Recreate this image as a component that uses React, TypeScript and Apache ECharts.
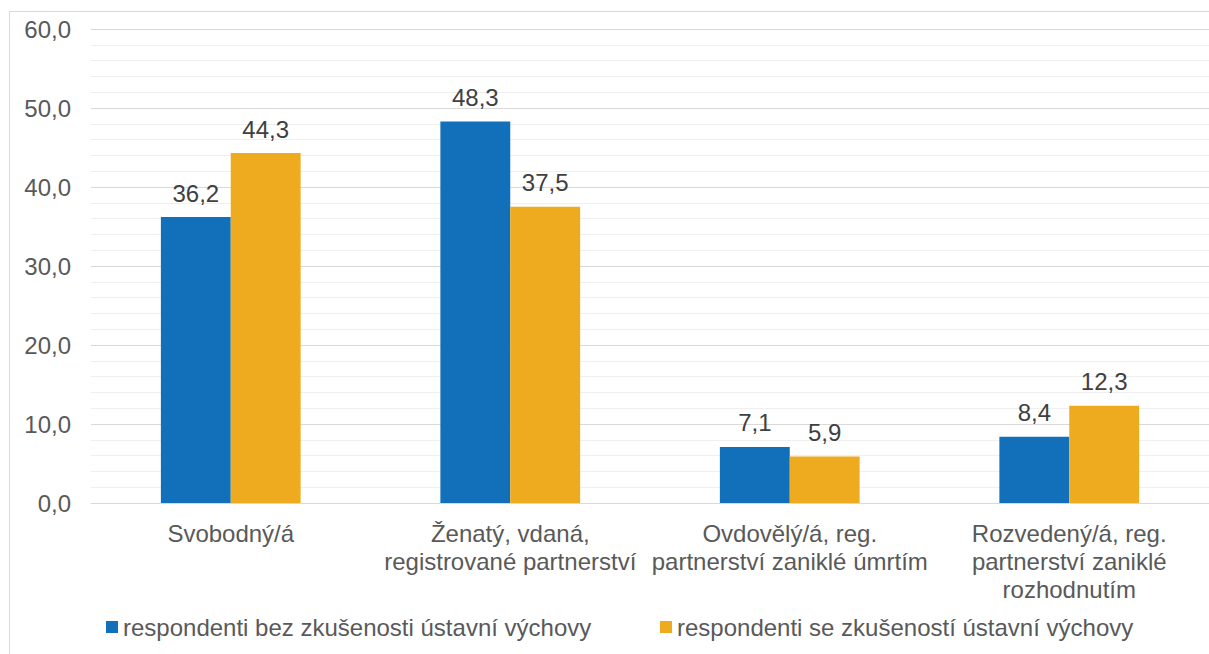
import React, { useEffect, useRef } from "react";
import * as echarts from "echarts";

const categories = [
  "Svobodný/á",
  "Ženatý, vdaná,\nregistrované partnerství",
  "Ovdovělý/á, reg.\npartnerství zaniklé úmrtím",
  "Rozvedený/á, reg.\npartnerství zaniklé\nrozhodnutím",
];
const seriesNames = [
  "respondenti bez zkušenosti ústavní výchovy",
  "respondenti se zkušeností ústavní výchovy",
];
const withoutExperience = [36.2, 48.3, 7.1, 8.4];
const withExperience = [44.3, 37.5, 5.9, 12.3];
const yTicks = { min: 0, max: 60, interval: 10 };

const FONT = "'Liberation Sans', Arial, sans-serif";
const FS = 24;
const fmt = (v: number) => v.toFixed(1).replace(".", ",");

export default function App() {
  const ref = useRef<HTMLDivElement>(null);
  useEffect(() => {
    if (!ref.current) return;
    const chart = echarts.init(ref.current, undefined, { renderer: "svg" });
    const labelCfg = {
      show: true,
      position: "top" as const,
      distance: 12,
      color: "#404040",
      fontSize: FS,
      fontFamily: FONT,
      formatter: (p: any) => fmt(p.value),
    };
    chart.setOption({
      animation: false,
      backgroundColor: "#ffffff",
      textStyle: { fontFamily: FONT },
      graphic: [
        {
          type: "rect",
          shape: { x: 9.5, y: 11.5, width: 1400, height: 800 },
          style: { fill: "none", stroke: "#d9d9d9", lineWidth: 1 },
          silent: true,
          z: -10,
        },
      ],
      grid: { left: 91, top: 29, width: 1120, height: 474, containLabel: false },
      legend: [
        {
          data: [seriesNames[0]],
          left: 106,
          top: 615,
          padding: 0,
          itemWidth: 12,
          itemHeight: 12,
          icon: "rect",
          itemGap: 0,
          textStyle: { fontSize: FS, color: "#595959", fontFamily: FONT },
        },
        {
          data: [seriesNames[1]],
          left: 660,
          top: 615,
          padding: 0,
          itemWidth: 12,
          itemHeight: 12,
          icon: "rect",
          itemGap: 0,
          textStyle: { fontSize: FS, color: "#595959", fontFamily: FONT },
        },
      ],
      xAxis: {
        type: "category",
        data: categories,
        axisTick: { show: false },
        axisLine: { show: true, lineStyle: { color: "#d9d9d9", width: 1 } },
        axisLabel: {
          color: "#595959",
          fontSize: FS,
          fontFamily: FONT,
          lineHeight: 28,
          margin: 16,
          interval: 0,
        },
      },
      yAxis: {
        type: "value",
        min: yTicks.min,
        max: yTicks.max,
        interval: yTicks.interval,
        axisLine: { show: false },
        axisTick: { show: false },
        axisLabel: {
          color: "#595959",
          fontSize: FS,
          fontFamily: FONT,
          margin: 20,
          formatter: (v: number) => fmt(v),
        },
        splitLine: { show: true, lineStyle: { color: "#d9d9d9", width: 1 } },
        minorTick: { show: false, splitNumber: 5 },
        minorSplitLine: { show: true, lineStyle: { color: "#efefef", width: 1 } },
      },
      series: [
        {
          name: seriesNames[0],
          type: "bar",
          data: withoutExperience,
          barGap: "0%",
          barCategoryGap: "50%",
          itemStyle: { color: "#1170B9" },
          label: labelCfg,
        },
        {
          name: seriesNames[1],
          type: "bar",
          data: withExperience,
          barGap: "0%",
          barCategoryGap: "50%",
          itemStyle: { color: "#EEAB1F" },
          label: labelCfg,
        },
      ],
    });
    return () => chart.dispose();
  }, []);
  return (
    <div
      ref={ref}
      style={{ position: "absolute", left: 0, top: 0, width: 1209, height: 654 }}
    />
  );
}
